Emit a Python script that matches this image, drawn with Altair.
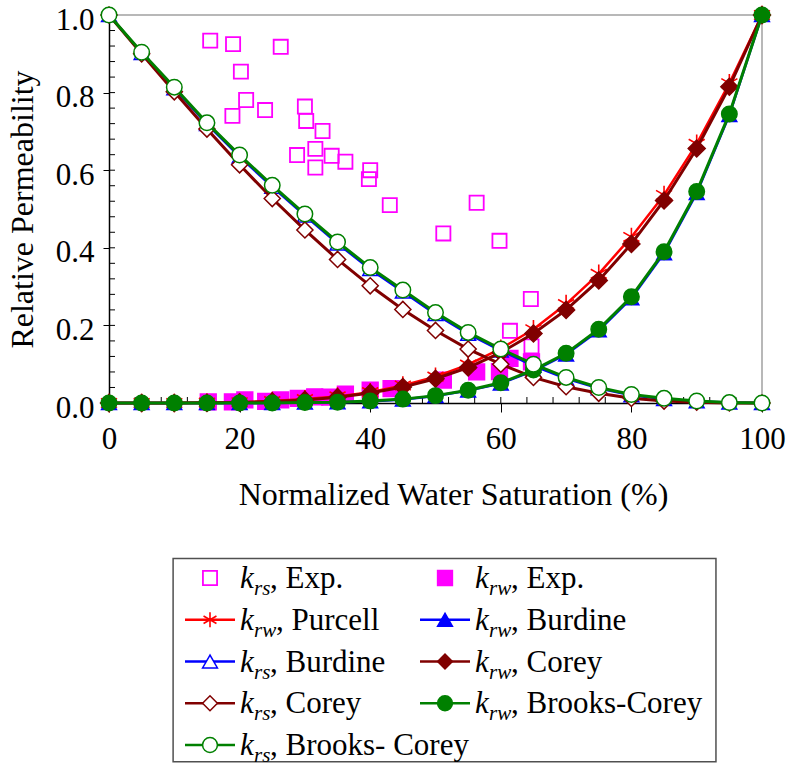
import altair as alt
import pandas as pd

# Normalized water saturation (%) where the model curves are evaluated
saturation = [0, 5, 10, 15, 20, 25, 30, 35, 40, 45, 50, 55, 60, 65, 70, 75, 80, 85, 90, 95, 100]

krw_purcell = [0.0, 0.0, 0.0, 0.001, 0.002, 0.005, 0.010, 0.017, 0.028, 0.045, 0.068,
               0.099, 0.140, 0.190, 0.255, 0.333, 0.428, 0.536, 0.668, 0.824, 1.0]
krw_burdine = [0.0, 0.0, 0.0, 0.0, 0.0, 0.0, 0.001, 0.002, 0.004, 0.009, 0.018,
               0.032, 0.050, 0.083, 0.125, 0.187, 0.270, 0.386, 0.541, 0.742, 1.0]
krs_burdine = [1.0, 0.902, 0.811, 0.719, 0.635, 0.557, 0.483, 0.411, 0.345, 0.287, 0.229,
               0.178, 0.135, 0.096, 0.063, 0.038, 0.020, 0.010, 0.004, 0.001, 0.0]
krw_corey = [0.0, 0.0, 0.0, 0.0005, 0.0016, 0.004, 0.008, 0.015, 0.026, 0.041, 0.0625,
             0.0915, 0.130, 0.179, 0.240, 0.316, 0.410, 0.522, 0.656, 0.815, 1.0]
krs_corey = [1.0, 0.900, 0.802, 0.706, 0.614, 0.527, 0.446, 0.370, 0.302, 0.241, 0.187,
             0.139, 0.100, 0.066, 0.042, 0.025, 0.012, 0.005, 0.002, 0.0, 0.0]
krw_brooks_corey = [0.0, 0.0, 0.0, 0.0, 0.0, 0.0, 0.001, 0.002, 0.005, 0.010, 0.019,
                    0.033, 0.052, 0.085, 0.128, 0.190, 0.274, 0.390, 0.545, 0.745, 1.0]
krs_brooks_corey = [1.0, 0.904, 0.814, 0.722, 0.639, 0.561, 0.487, 0.415, 0.349, 0.291, 0.233,
                    0.182, 0.139, 0.100, 0.066, 0.040, 0.022, 0.012, 0.005, 0.001, 0.0]

# Experimental measurements
exp_krs_sw = [15.5, 19.0, 26.3, 20.2, 21.0, 18.9, 23.9, 30.0, 30.2, 32.7, 28.8, 31.6,
              34.1, 36.2, 31.6, 40.0, 39.8, 43.0, 56.3, 51.2, 59.8, 64.6, 61.4, 64.7]
exp_krs = [0.934, 0.925, 0.918, 0.854, 0.781, 0.740, 0.755, 0.764, 0.727, 0.701, 0.639, 0.655,
           0.637, 0.622, 0.607, 0.600, 0.577, 0.510, 0.516, 0.437, 0.418, 0.268, 0.186, 0.146]
exp_krw_sw = [15.2, 18.9, 20.8, 24.0, 26.3, 29.0, 31.5, 33.8, 36.2, 40.0, 43.2,
              51.2, 56.3, 59.8, 61.4, 64.7]
exp_krw = [0.003, 0.003, 0.008, 0.004, 0.008, 0.012, 0.016, 0.015, 0.023, 0.033, 0.037,
           0.059, 0.080, 0.081, 0.115, 0.106]

x_ticks = [0, 20, 40, 60, 80, 100]
y_ticks = [0.0, 0.2, 0.4, 0.6, 0.8, 1.0]

PLOT_W, PLOT_H = 653, 388
SERIF = "'Liberation Serif', 'Times New Roman', Times, serif"
X_TITLE = "Normalized Water Saturation (%)"
Y_TITLE = "Relative Permeability"
STAR = "M0,-1L0,1M-0.87,-0.5L0.87,0.5M-0.87,0.5L0.87,-0.5"

xs = alt.Scale(domain=[0, 100], nice=False, zero=False)
ys = alt.Scale(domain=[0, 1], nice=False)
x_axis = alt.Axis(values=x_ticks, format="d", tickSize=9, labelPadding=12,
                  titlePadding=25, titleX=344, labelFlush=False, labelOverlap=False)
y_axis = alt.Axis(values=y_ticks, format=".1f", tickSize=6, labelPadding=9, labelOffset=5,
                  titlePadding=16, labelFlush=False, labelOverlap=False)


def X(field):
    return alt.X(f"{field}:Q", scale=xs, axis=x_axis, title=X_TITLE)


def Y(field):
    return alt.Y(f"{field}:Q", scale=ys, axis=y_axis, title=Y_TITLE)


curves = pd.DataFrame({
    "S": saturation,
    "krw_purcell": krw_purcell,
    "krw_burdine": krw_burdine,
    "krs_burdine": krs_burdine,
    "krw_corey": krw_corey,
    "krs_corey": krs_corey,
    "krw_brooks_corey": krw_brooks_corey,
    "krs_brooks_corey": krs_brooks_corey,
})
exp_krs_df = pd.DataFrame({"S": exp_krs_sw, "k": exp_krs})
exp_krw_df = pd.DataFrame({"S": exp_krw_sw, "k": exp_krw})


def marker(color, shape, kind, size, sw=1.5):
    """kind: 'solid', 'open' (white inside), 'hollow' (see-through), 'stroke'."""
    kw = dict(shape=shape, size=size, opacity=1, strokeWidth=sw)
    if kind == "solid":
        kw.update(filled=True, fill=color, stroke=color)
    elif kind == "open":
        kw.update(filled=True, fill="white", stroke=color)
    else:
        kw.update(filled=False, stroke=color)
    return kw


# series: (legend sub, legend text, legend col, legend row, data, field, color, marker kwargs, line width)
MAGENTA, RED, BLUE, MAROON, GREEN = "#ff00ff", "#ff0000", "#0000ff", "#800000", "#008000"
series = [
    ("rs", ", Exp.", 0, 0, exp_krs_df, "k", MAGENTA, marker(MAGENTA, "square", "hollow", 200, 1.8), 0),
    ("rw", ", Exp.", 1, 0, exp_krw_df, "k", MAGENTA, marker(MAGENTA, "square", "solid", 250), 0),
    ("rw", ", Purcell", 0, 1, curves, "krw_purcell", RED, marker(RED, STAR, "stroke", 340, 1.6), 2.5),
    ("rw", ", Burdine", 1, 1, curves, "krw_burdine", BLUE, marker(BLUE, "triangle-up", "solid", 220), 2.5),
    ("rs", ", Burdine", 0, 2, curves, "krs_burdine", BLUE, marker(BLUE, "triangle-up", "open", 220), 2.5),
    ("rw", ", Corey", 1, 2, curves, "krw_corey", MAROON, marker(MAROON, "diamond", "solid", 290), 3),
    ("rs", ", Corey", 0, 3, curves, "krs_corey", MAROON, marker(MAROON, "diamond", "open", 260), 3),
    ("rw", ", Brooks-Corey", 1, 3, curves, "krw_brooks_corey", GREEN, marker(GREEN, "circle", "solid", 240), 3),
    ("rs", ", Brooks- Corey", 0, 4, curves, "krs_brooks_corey", GREEN, marker(GREEN, "circle", "open", 240), 3),
]

# ---- plot area ----
frame = alt.Chart(pd.DataFrame({"t": [0]}))
top_edge = frame.mark_rule(color="#a0a0a0", strokeWidth=1.5).encode(
    x=alt.value(0), x2=alt.value(PLOT_W), y=alt.value(0))
right_edge = frame.mark_rule(color="#a0a0a0", strokeWidth=1.5).encode(
    x=alt.value(PLOT_W), y=alt.value(0), y2=alt.value(PLOT_H))

# inward ticks every 4 % and every 0.04
x_minor = pd.DataFrame({"t": list(range(0, 101, 4))})
y_minor = pd.DataFrame({"t": [round(i * 0.04, 2) for i in range(26)]})
x_inner = alt.Chart(x_minor).mark_rule(color="black", strokeWidth=1).encode(
    x=X("t"), y=alt.value(PLOT_H), y2=alt.value(PLOT_H - 6))
y_inner = alt.Chart(y_minor).mark_rule(color="black", strokeWidth=1).encode(
    y=Y("t"), x=alt.value(0), x2=alt.value(6))

plot_layers = [top_edge, right_edge, x_inner, y_inner]
for sub, rest, c, r, df, field, color, mk, lw in series:
    base = alt.Chart(df)
    if lw:
        plot_layers.append(base.mark_line(color=color, strokeWidth=lw).encode(x=X("S"), y=Y(field)))
    plot_layers.append(base.mark_point(**mk).encode(x=X("S"), y=Y(field)))

plot = alt.layer(*plot_layers)

# ---- legend block below the plot ----
LX = alt.Scale(domain=[0, 1], range=[101, 336])
LY = alt.Scale(domain=[0, 4], range=[563, 730])
LXe = alt.X("col:Q", scale=LX, axis=None)
LYe = alt.Y("row:Q", scale=LY, axis=None)

legend_df = pd.DataFrame({
    "col": [s[2] for s in series],
    "row": [s[3] for s in series],
    "sub": [s[0] for s in series],
    "rest": [s[1] for s in series],
})

box = alt.Chart(pd.DataFrame({"t": [0]})).mark_rect(
    fillOpacity=0, stroke="#505050", strokeWidth=1.5).encode(
    x=alt.X(datum=-0.157, scale=LX, axis=None), x2=alt.X2(datum=2.153),
    y=alt.Y(datum=-0.47, scale=LY, axis=None), y2=alt.Y2(datum=4.4))

legend_layers = [box]
for sub, rest, c, r, df, field, color, mk, lw in series:
    one = alt.Chart(pd.DataFrame({"col": [c], "row": [r]}))
    if lw:
        legend_layers.append(one.mark_tick(orient="horizontal", size=50, thickness=2.5,
                                           color=color, opacity=1).encode(x=LXe, y=LYe))
    leg_mk = dict(mk)
    leg_mk["size"] = min(mk["size"], 220)
    legend_layers.append(one.mark_point(**leg_mk).encode(x=LXe, y=LYe))

lt = alt.Chart(legend_df)
FS = 31
legend_layers.append(lt.mark_text(text="k", font=SERIF, fontStyle="italic", fontSize=FS,
                                  align="left", baseline="alphabetic", dx=30, dy=10,
                                  color="black").encode(x=LXe, y=LYe))
legend_layers.append(lt.mark_text(font=SERIF, fontStyle="italic", fontSize=21,
                                  align="left", baseline="alphabetic", dx=44, dy=17,
                                  color="black").encode(x=LXe, y=LYe, text="sub:N"))
legend_layers.append(lt.transform_filter("datum.sub == 'rs'").mark_text(
    font=SERIF, fontSize=FS, align="left", baseline="alphabetic", dx=60, dy=10,
    color="black").encode(x=LXe, y=LYe, text="rest:N"))
legend_layers.append(lt.transform_filter("datum.sub == 'rw'").mark_text(
    font=SERIF, fontSize=FS, align="left", baseline="alphabetic", dx=66, dy=10,
    color="black").encode(x=LXe, y=LYe, text="rest:N"))

legend = alt.layer(*legend_layers)

chart = alt.layer(plot, legend).resolve_scale(
    x="independent", y="independent"
).properties(
    width=PLOT_W, height=PLOT_H,
    padding={"left": 109, "top": 15, "right": 27, "bottom": 363},
    autosize=alt.AutoSizeParams(type="none"),
    background="white",
).configure_view(stroke=None).configure_axis(
    labelFont=SERIF, titleFont=SERIF, labelFontSize=31, titleFontSize=32,
    titleFontWeight="normal", labelColor="black", titleColor="black",
    domainColor="black", tickColor="black", domainWidth=1.5, tickWidth=1,
    grid=False,
)

chart.save("out.html", embed_options={"renderer": "svg", "actions": False})
